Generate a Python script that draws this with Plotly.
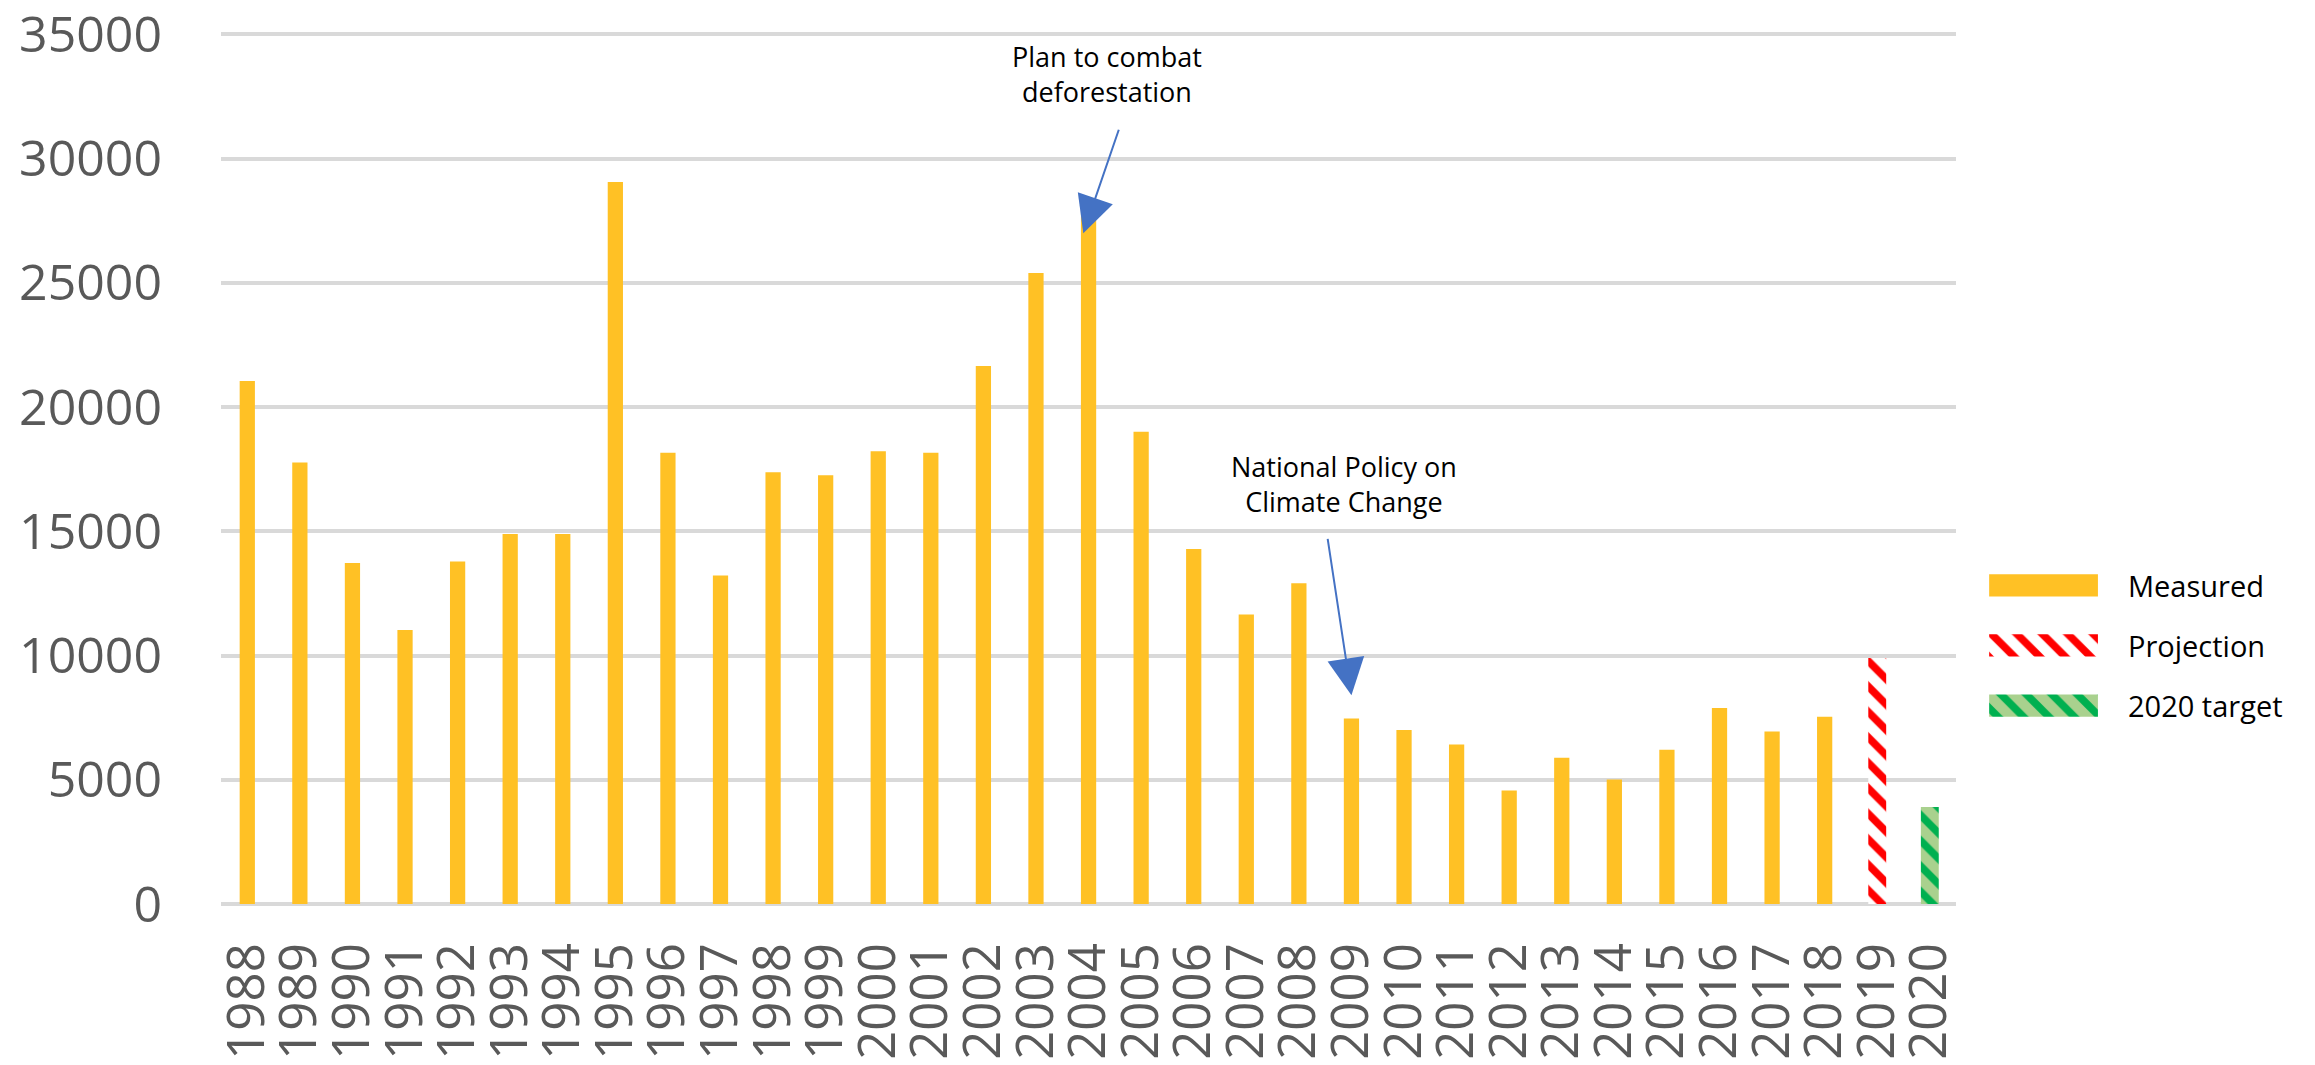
import plotly.graph_objects as go

# ---------------- data ----------------
years = [str(y) for y in range(1988, 2021)]
measured_years = [str(y) for y in range(1988, 2019)]
measured = [21050, 17770, 13730, 11030, 13786, 14896, 14896, 29059, 18161, 13227,
            17383, 17259, 18226, 18165, 21651, 25396, 27772, 19014, 14286, 11651,
            12911, 7464, 7000, 6418, 4571, 5891, 5012, 6207, 7893, 6947, 7536]
projection_years = ["2019"]
projection = [9900]
target_years = ["2020"]
target = [3900]
y_ticks = [0, 5000, 10000, 15000, 20000, 25000, 30000, 35000]
y_tick_text = [str(v) for v in y_ticks]
legend_labels = ["Measured", "Projection", "2020 target"]

GOLD = "#FFC125"
RED = "#FF0000"
GREEN_BG = "#A9D18E"
GREEN_FG = "#00B050"
GRID = "#D9D9D9"
TICK = "#595959"
ARROW = "#4472C4"
FONT = "Open Sans, Liberation Sans, sans-serif"

red_pattern = dict(shape="\\", fgcolor=RED, bgcolor="white", size=18, solidity=0.42, fillmode="replace")
green_pattern = dict(shape="\\", fgcolor=GREEN_FG, bgcolor=GREEN_BG, size=18, solidity=0.42, fillmode="replace")

fig = go.Figure()

# main bars
fig.add_trace(go.Bar(x=measured_years, y=measured, width=0.29,
                     marker=dict(color=GOLD, line=dict(width=0)), name=legend_labels[0]))
fig.add_trace(go.Bar(x=projection_years, y=projection, width=0.34,
                     marker=dict(color="white", line=dict(width=0), pattern=red_pattern),
                     name=legend_labels[1]))
fig.add_trace(go.Bar(x=target_years, y=target, width=0.34,
                     marker=dict(color=GREEN_BG, line=dict(width=0), pattern=green_pattern),
                     name=legend_labels[2]))

# custom legend swatches (on a hidden helper axis)
fig.add_trace(go.Bar(x=[1], y=[legend_labels[0]], orientation="h", width=0.37,
                     marker=dict(color=GOLD, line=dict(width=0)), xaxis="x2", yaxis="y2"))
fig.add_trace(go.Bar(x=[1], y=[legend_labels[1]], orientation="h", width=0.37,
                     marker=dict(color="white", line=dict(width=0), pattern=red_pattern),
                     xaxis="x2", yaxis="y2"))
fig.add_trace(go.Bar(x=[1], y=[legend_labels[2]], orientation="h", width=0.37,
                     marker=dict(color=GREEN_BG, line=dict(width=0), pattern=green_pattern),
                     xaxis="x2", yaxis="y2"))

annotations = []
for lab in legend_labels:
    annotations.append(dict(x=0.9186, xref="paper", y=lab, yref="y2", text=lab,
                            showarrow=False, xanchor="left", yanchor="middle",
                            font=dict(family=FONT, size=29, color="black")))

# callouts
annotations.append(dict(x=16.35, y=33400, xref="x", yref="y",
                        text="Plan to combat<br>deforestation", showarrow=False,
                        font=dict(family=FONT, size=27, color="black")))
annotations.append(dict(x=15.9, y=27000, xref="x", yref="y", text="",
                        showarrow=True, arrowhead=2, arrowsize=3.7, arrowwidth=2,
                        arrowcolor=ARROW, ax=36, ay=-105, standoff=0))
annotations.append(dict(x=20.86, y=16900, xref="x", yref="y",
                        text="National Policy on<br>Climate Change", showarrow=False,
                        font=dict(family=FONT, size=27, color="black")))
annotations.append(dict(x=21.0, y=8400, xref="x", yref="y", text="",
                        showarrow=True, arrowhead=2, arrowsize=3.7, arrowwidth=2,
                        arrowcolor=ARROW, ax=-24, ay=-158, standoff=0))

# the page body adds an 8px offset, so the figure is 8px smaller and shifted
fig.update_layout(
    width=2307, height=1057,
    margin=dict(l=213, r=20, t=23.5, b=161, autoexpand=False),
    paper_bgcolor="white", plot_bgcolor="white",
    barmode="overlay", showlegend=False,
    font=dict(family=FONT),
    xaxis=dict(type="category", categoryorder="array", categoryarray=years,
               tickmode="array", tickvals=years, ticktext=years,
               domain=[0, 0.8366], range=[-0.5, 32.5], showgrid=False, showline=False,
               zeroline=False, ticks="", tickangle=-90, ticklabelstandoff=28,
               automargin=False, ticklabeloverflow="allow",
               tickfont=dict(family=FONT, size=51, color=TICK), fixedrange=True),
    yaxis=dict(range=[0, 35100], tickmode="array", tickvals=y_ticks, ticktext=y_tick_text,
               showgrid=True, gridcolor=GRID,
               gridwidth=4, zeroline=True, zerolinecolor=GRID, zerolinewidth=4,
               showline=False, ticks="", ticklabelstandoff=58,
               automargin=False, ticklabeloverflow="allow",
               tickfont=dict(family=FONT, size=50, color=TICK), fixedrange=True),
    xaxis2=dict(domain=[0.8525, 0.9050], range=[0, 1], visible=False, anchor="y2"),
    yaxis2=dict(domain=[0.1931, 0.40], type="category", categoryorder="array",
                categoryarray=legend_labels[::-1], range=[-0.5, 2.5], visible=False,
                anchor="x2"),
    annotations=annotations,
)

fig.write_html("out.html")
